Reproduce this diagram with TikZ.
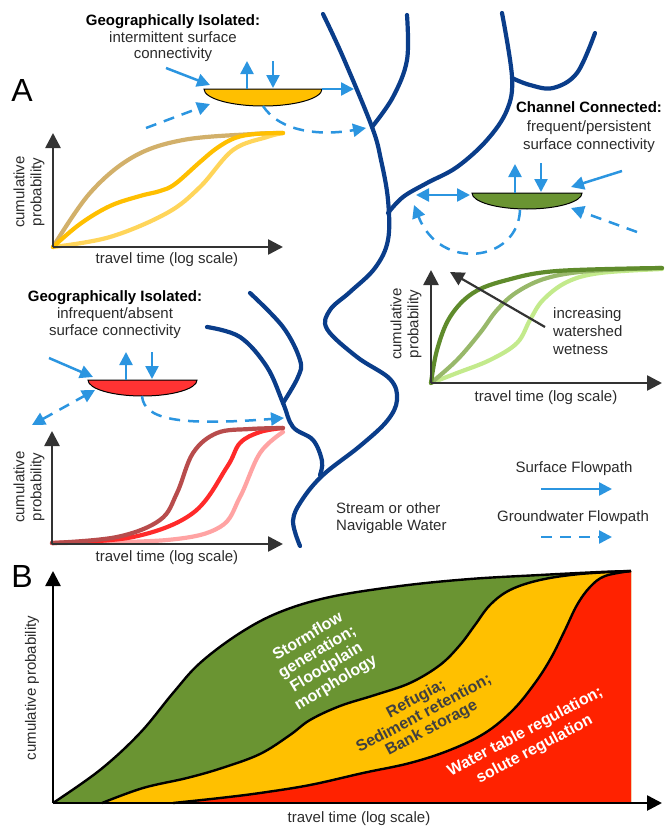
\documentclass[tikz,border=0pt]{standalone}
\usepackage{fontspec}
\setmainfont{Liberation Sans}
\usetikzlibrary{arrows.meta}
\definecolor{streamblue}{HTML}{0A3D8A}
\definecolor{flowblue}{HTML}{2B95E0}
\definecolor{axgray}{HTML}{333333}
\definecolor{txtgray}{HTML}{2B2B2B}
\definecolor{pondyellow}{HTML}{FFBF00}
\definecolor{pondgreen}{HTML}{6A9432}
\definecolor{pondred}{HTML}{FF3333}
\definecolor{ctan}{HTML}{D2B06A}
\definecolor{corange}{HTML}{FFBF00}
\definecolor{clight}{HTML}{FFD55A}
\definecolor{gdark}{HTML}{5F8B2C}
\definecolor{gmid}{HTML}{98B86A}
\definecolor{glight}{HTML}{C3EA8C}
\definecolor{rdark}{HTML}{B84C4C}
\definecolor{rmid}{HTML}{FF2A2A}
\definecolor{rpink}{HTML}{FFA3A3}
\definecolor{bgreen}{HTML}{6A9432}
\definecolor{byellow}{HTML}{FFC000}
\definecolor{bred}{HTML}{FF2200}
\definecolor{darktext}{HTML}{404040}
\tikzset{
  stream/.style={draw=streamblue, line width=4.2pt, line cap=round, line join=round},
  sflow/.style={draw=flowblue, line width=2.5pt, -{Triangle[length=13pt,width=13pt]}},
  sflowtwo/.style={draw=flowblue, line width=2.5pt, {Triangle[length=13pt,width=13pt]}-{Triangle[length=13pt,width=13pt]}},
  gflow/.style={sflow, dash pattern=on 11pt off 8pt},
  gflowtwo/.style={sflowtwo, dash pattern=on 11pt off 8pt},
  axis/.style={draw=axgray, line width=2.6pt, -{Triangle[length=15pt,width=15pt]}},
  baxis/.style={draw=black, line width=2.6pt, -{Triangle[length=15pt,width=15pt]}},
  pond/.style={draw=black, line width=1pt},
  cdf/.style={line width=4.2pt, line cap=round},
  lbl/.style={font=\fontsize{15}{17}\selectfont, text=txtgray, inner sep=0pt, align=center},
  bigl/.style={font=\fontsize{32}{32}\selectfont, text=black, inner sep=0pt},
  blbl/.style={font=\bfseries\fontsize{16}{18}\selectfont, inner sep=0pt, align=center},
}
\begin{document}
\begin{tikzpicture}[x=1pt,y=-1pt]
\useasboundingbox (0,0) rectangle (666,830);

% ---------- stream network ----------
\draw[stream] plot[smooth, tension=0.6] coordinates {(323,14) (343,57) (372,127) (381,160) (388,200) (388,240) (375,268) (350,292) (330,310) (327,329) (357,357) (390,379) (397,400) (387,421) (360,446) (323,475) (302,500) (293,521) (300,546)};
\draw[stream] plot[smooth, tension=0.6] coordinates {(407,15) (407,60) (393,97) (372,127)};
\draw[stream] plot[smooth, tension=0.6] coordinates {(502,13) (512,77) (507,110) (487,140) (457,167) (427,183) (403,197) (388,213)};
\draw[stream] plot[smooth, tension=0.6] coordinates {(512,78) (530,85) (553,88) (577,73) (595,33)};
\draw[stream] plot[smooth, tension=0.6] coordinates {(250,293) (283,327) (300,360) (298,377) (283,403)};
\draw[stream] plot[smooth, tension=0.6] coordinates {(207,327) (240,337) (267,367) (283,403) (293,427) (313,440) (322,461) (320,475)};

% ---------- yellow pond (top left) ----------
\node[lbl, font=\fontsize{15}{16.5}\selectfont] (t1) at (173,38.5) {{\bfseries\color{black}Geographically Isolated:}\\intermittent surface\\connectivity};
\draw[pond, fill=pondyellow] (204,89) -- (322,89) arc[start angle=0, end angle=-180, x radius=59pt, y radius=17pt] -- cycle;
\draw[sflow] (166,68) -- (210,85);
\draw[sflow] (247,89) -- (247,61);
\draw[sflow] (273,61) -- (273,88);
\draw[gflow] (146,128) -- (210,104);
\draw[sflow] (322,89) -- (354,89);
\draw[gflow] (263,106) .. controls (280,132) and (320,136) .. (366,128);

% yellow plot
\draw[cdf, ctan] plot[smooth, tension=0.6] coordinates {(53,247) (90,193) (133,157) (183,140) (253,134) (283,133)};
\draw[cdf, clight] plot[smooth, tension=0.6] coordinates {(53,247) (110,237) (167,213) (200,187) (233,150) (267,137) (283,133)};
\draw[cdf, corange] plot[smooth, tension=0.6] coordinates {(53,247) (80,224) (110,206) (140,196) (160,191) (175,184) (200,162) (217,148) (235,138) (255,134) (283,133)};
\draw[axis] (53,247) -- (53,133);
\draw[axis] (53,247) -- (283,247);
\node[lbl, rotate=90, font=\fontsize{15}{17}\selectfont] (yl1) at (29,192) {cumulative\\probability};
\node[lbl] (xl1) at (167,260) {travel time (log scale)};
\node[bigl] (A) at (22,90) {A};

% ---------- green pond (channel connected) ----------
\node[lbl, font=\fontsize{15}{18.5}\selectfont] (t2) at (589,127.5) {{\bfseries\color{black}Channel Connected:}\\frequent/persistent\\surface connectivity};
\draw[pond, fill=pondgreen] (472,193) -- (582,193) arc[start angle=0, end angle=-180, x radius=55pt, y radius=16pt] -- cycle;
\draw[sflow] (515,193) -- (515,164);
\draw[sflow] (541,163) -- (541,192);
\draw[sflow] (622,171) -- (571,187);
\draw[gflow] (637,232) -- (571,208);
\draw[sflowtwo] (416,195) -- (470,195);
\draw[gflow] (520,210) .. controls (518,262) and (440,272) .. (414,205);

% green plot
\draw[cdf, glight] plot[smooth, tension=0.6] coordinates {(431,383) (457,373) (490,360) (517,343) (530,320) (543,300) (567,282) (600,273) (662,269)};
\draw[cdf, gmid] plot[smooth, tension=0.6] coordinates {(431,383) (457,360) (480,333) (497,310) (517,292) (547,278) (590,271) (662,268)};
\draw[cdf, gdark] plot[smooth, tension=0.6] coordinates {(431,383) (437,350) (450,317) (473,293) (507,280) (557,271) (662,268)};
\draw[axis] (431,383) -- (431,270);
\draw[axis] (431,383) -- (662,383);
\node[lbl, rotate=90] (yl2) at (406,324) {cumulative\\probability};
\node[lbl] (xl2) at (546,398) {travel time (log scale)};
\node[lbl, align=left, anchor=west, font=\fontsize{15}{18}\selectfont] (wet) at (553,331) {increasing\\watershed\\wetness};
\draw[draw=axgray, line width=2.2pt, -{Triangle[length=14pt,width=14pt]}] (545,327) -- (450,272);

% ---------- red pond (bottom left) ----------
\node[lbl, font=\fontsize{15}{17}\selectfont] (t3) at (115,315) {{\bfseries\color{black}Geographically Isolated:}\\infrequent/absent\\surface connectivity};
\draw[pond, fill=pondred] (88,380) -- (197,380) arc[start angle=0, end angle=-180, x radius=54.5pt, y radius=16pt] -- cycle;
\draw[sflow] (49,358) -- (93,377);
\draw[sflow] (126,380) -- (126,352);
\draw[sflow] (152,352) -- (152,379);
\draw[gflowtwo] (32,425) -- (95,390);
\draw[gflow] (142,396) .. controls (144,420) and (180,426) .. (284,418);

% red plot
\draw[cdf, rpink] plot[smooth, tension=0.6] coordinates {(52,543) (167,540) (220,527) (240,497) (260,453) (283,432)};
\draw[cdf, rmid] plot[smooth, tension=0.6] coordinates {(52,543) (133,537) (193,513) (227,467) (240,443) (260,432) (283,428)};
\draw[cdf, rdark] plot[smooth, tension=0.6] coordinates {(52,543) (117,537) (160,520) (177,493) (193,453) (217,433) (250,429) (283,428)};
\draw[axis] (52,544) -- (52,431);
\draw[axis] (52,544) -- (283,544);
\node[lbl, rotate=90] (yl3) at (29,487) {cumulative\\probability};
\node[lbl] (xl3) at (167,558) {travel time (log scale)};

% ---------- legend ----------
\node[lbl] (leg1) at (574,469) {Surface Flowpath};
\draw[sflow] (541,489) -- (612,489);
\node[lbl] (leg2) at (573,518) {Groundwater Flowpath};
\draw[gflow] (541,537) -- (612,537);
\node[lbl, align=left, anchor=west] (leg3) at (336,518) {Stream or other\\Navigable Water};

% ---------- panel B ----------
\fill[bgreen] plot[smooth, tension=0.6] coordinates {(53,803) (100,770) (140,733) (173,693) (200,663) (240,633) (280,612) (330,597) (400,586) (470,579) (540,575) (600,572) (631,571)} -- (631,803) -- cycle;
\fill[byellow] plot[smooth, tension=0.6] coordinates {(102,803) (143,788) (187,778) (222,768) (260,754) (290,735) (310,720) (340,706) (375,695) (410,683) (440,665) (460,645) (475,625) (490,605) (510,590) (540,580) (580,574) (631,571)} -- (631,803) -- cycle;
\fill[bred] plot[smooth, tension=0.6] coordinates {(173,803) (220,798) (260,793) (310,785) (363,773) (410,763) (450,750) (485,733) (513,710) (535,683) (551,658) (565,630) (577,605) (590,587) (605,576) (631,571)} -- (631,803) -- cycle;
\draw[black, line width=2.4pt] plot[smooth, tension=0.6] coordinates {(53,803) (100,770) (140,733) (173,693) (200,663) (240,633) (280,612) (330,597) (400,586) (470,579) (540,575) (600,572) (631,571)};
\draw[black, line width=2.4pt] plot[smooth, tension=0.6] coordinates {(102,803) (143,788) (187,778) (222,768) (260,754) (290,735) (310,720) (340,706) (375,695) (410,683) (440,665) (460,645) (475,625) (490,605) (510,590) (540,580) (580,574) (631,571)};
\draw[black, line width=2.4pt] plot[smooth, tension=0.6] coordinates {(173,803) (220,798) (260,793) (310,785) (363,773) (410,763) (450,750) (485,733) (513,710) (535,683) (551,658) (565,630) (577,605) (590,587) (605,576) (631,571)};
\draw[baxis] (53,803) -- (53,571);
\draw[baxis] (53,803) -- (662,803);
\node[lbl, rotate=90] (yl4) at (32,688) {cumulative probability};
\node[lbl] (xl4) at (359,819) {travel time (log scale)};
\node[bigl] (B) at (22,576) {B};
\node[blbl, text=white, rotate=31] (b1) at (322,660) {Stormflow\\generation;\\Floodplain\\morphology};
\node[blbl, text=darktext, rotate=28, font=\bfseries\fontsize{16}{16.5}\selectfont] (b2) at (424,714) {Refugia;\\Sediment retention;\\Bank storage};
\node[blbl, text=white, rotate=28, font=\bfseries\fontsize{16}{20}\selectfont] (b3) at (530,741) {Water table regulation;\\solute regulation};
\end{tikzpicture}
\end{document}
